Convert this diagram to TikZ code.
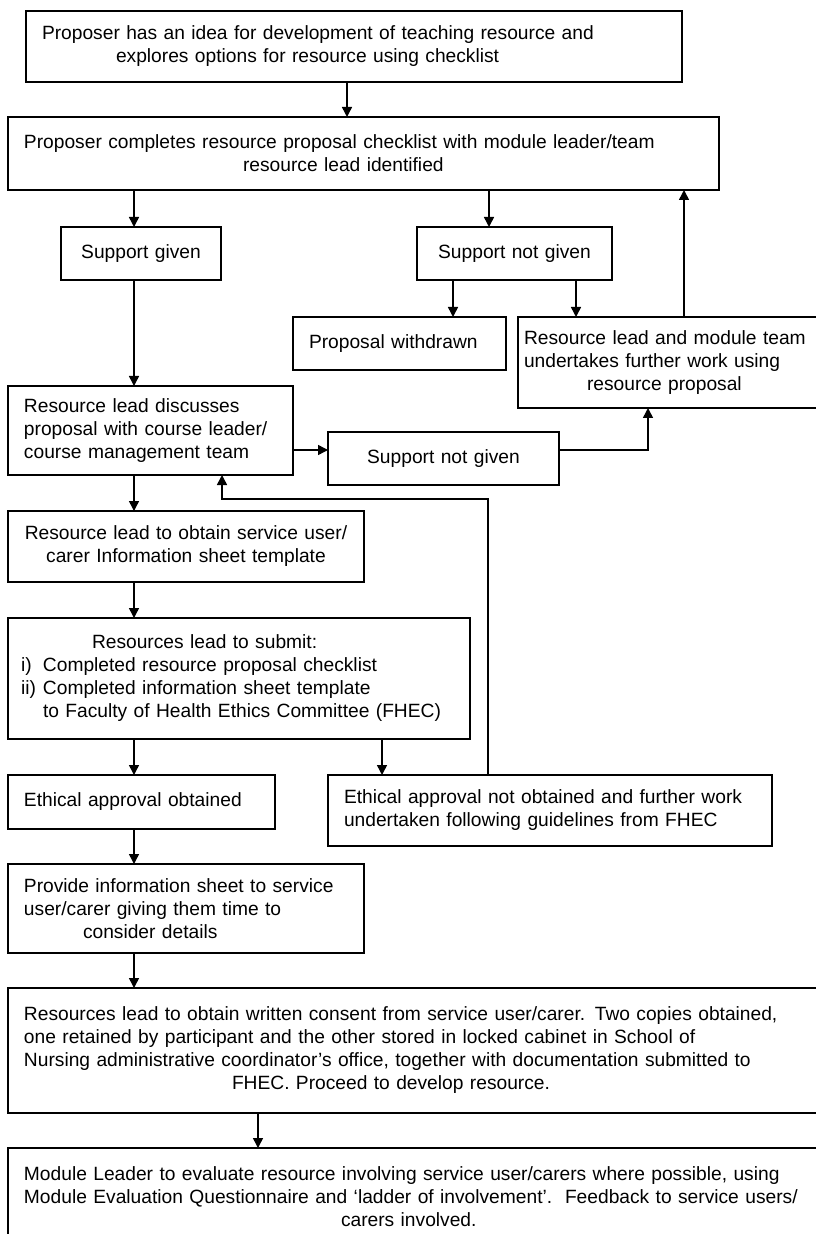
\documentclass[tikz,border=0pt]{standalone}
\usepackage{fontspec}
\setmainfont{Liberation Sans}
\usetikzlibrary{arrows.meta,positioning}

\begin{document}
\begin{tikzpicture}[>={Triangle[length=5pt,width=5pt]},line width=0.75pt,node distance=17.5pt,
      box/.style 2 args={draw,text width=#1,minimum height=#2,inner xsep=8pt,inner ysep=2pt,outer sep=0pt,
        align=left,font=\fontsize{9.6}{11.5}\selectfont},
      cbox/.style 2 args={box={#1}{#2},align=center}]
      \useasboundingbox (0,0) rectangle (407.5pt,-617pt);

      \node[box={312pt}{35.5pt},anchor=north west] (idea) at (13pt,-5.5pt)
        {Proposer has an idea for development of teaching resource and\\
         \hspace*{37pt}explores options for resource using checklist};
      \node[box={339.5pt}{36.5pt},below=of idea.south west,anchor=north west,xshift=-9pt] (checklist)
        {Proposer completes resource proposal checklist with module leader/team\\
         \hspace*{109.5pt}resource lead identified};
      \node[cbox={64pt}{26.5pt},below=18.5pt of checklist.south west,anchor=north west,xshift=26.5pt] (given)
        {Support given};
      \node[cbox={81.5pt}{26.5pt},right=98pt of given.north east,anchor=north west] (nogo)
        {Support not given};
      \node[box={90.5pt}{26.5pt},below=18.5pt of nogo.south west,anchor=north west,xshift=-62pt] (withdrawn)
        {Proposal withdrawn};
      \node[box={146pt}{45.5pt},inner xsep=3pt,right=6pt of withdrawn.north east,anchor=north west] (further)
        {Resource lead and module team\\
         undertakes further work using\\
         \hspace*{31.5pt}resource proposal};
      \node[box={126.5pt}{44.5pt},below=53pt of given.south west,anchor=north west,xshift=-26.5pt] (discusses)
        {Resource lead discusses\\
         proposal with course leader/\\
         course management team};
      \node[cbox={99.5pt}{26.5pt},right=of discusses.north east,anchor=north west,yshift=-23pt] (nogo2)
        {Support not given};
      \node[cbox={174pt}{35.5pt},inner xsep=2pt,below=18pt of discusses.south west,anchor=north west] (template)
        {Resource lead to obtain service user/\\
         carer Information sheet template};
      \node[box={218pt}{60.5pt},inner xsep=6.5pt,below=18pt of template.south west,anchor=north west] (submit)
        {\hspace*{35.5pt}Resources lead to submit:\\
         \makebox[11pt][l]{i)}Completed resource proposal checklist\\
         \makebox[11pt][l]{ii)}Completed information sheet template\\
         \hspace*{11pt}to Faculty of Health Ethics Committee (FHEC)};
      \node[box={117.5pt}{27pt},below=18pt of submit.south west,anchor=north west] (approved)
        {Ethical approval obtained};
      \node[box={206pt}{35.5pt},right=26.5pt of approved.north east,anchor=north west] (rejected)
        {Ethical approval not obtained and further work\\
         undertaken following guidelines from FHEC};
      \node[box={162pt}{44.5pt},below=of approved.south west,anchor=north west] (provide)
        {Provide information sheet to service\\
         user/carer giving them time to\\
         \hspace*{29.5pt}consider details};
      \node[box={404pt}{62.5pt},below=of provide.south west,anchor=north west] (consent)
        {Resources lead to obtain written consent from service user/carer. Two copies obtained,\\
         one retained by participant and the other stored in locked cabinet in School of\\
         Nursing administrative coordinator’s office, together with documentation submitted to\\
         \hspace*{104pt}FHEC. Proceed to develop resource.};
      \node[box={404pt}{49pt},below=of consent.south west,anchor=north west] (evaluate)
        {Module Leader to evaluate resource involving service user/carers where possible, using\\
         Module Evaluation Questionnaire and ‘ladder of involvement’.\ \ Feedback to service users/\\
         \hspace*{158.5pt}carers involved.};

      \coordinate (spine) at (67pt,0);
      \coordinate (t1) at ([xshift=-3.5pt]idea.south);
      \coordinate (t2) at ([xshift=-12.75pt]nogo.north);
      \coordinate (t3) at ([xshift=18pt]nogo.south west);
      \coordinate (t4) at ([xshift=79.5pt]nogo.south west);
      \coordinate (t5) at ([xshift=83pt]further.north west);
      \coordinate (t6) at ([yshift=-32pt]discusses.north east);
      \coordinate (t7) at ([xshift=65pt]further.south west);
      \coordinate (t8) at ([xshift=80pt]rejected.north west);
      \coordinate (t9) at ([xshift=107pt]discusses.south west);
      \coordinate (t10) at ([xshift=27pt]rejected.north west);
      \coordinate (t11) at ([xshift=125pt]consent.south west);

      \draw[->] (t1) -- (t1 |- checklist.north);
      \draw[->] (checklist.south -| spine) -- (given.north -| spine);
      \draw[->] (t2 |- checklist.south) -- (t2);
      \draw[->] (t3) -- (t3 |- withdrawn.north);
      \draw[->] (t4) -- (t4 |- further.north);
      \draw[->] (t5) -- (t5 |- checklist.south);
      \draw[->] (given.south -| spine) -- (discusses.north -| spine);
      \draw[->] (t6) -- (t6 -| nogo2.west);
      \draw[->] (t6 -| nogo2.east) -| (t7);
      \draw[->] (discusses.south -| spine) -- (template.north -| spine);
      \draw[->] (t8) |- ([yshift=-12pt]t9) -- (t9);
      \draw[->] (template.south -| spine) -- (submit.north -| spine);
      \draw[->] (submit.south -| spine) -- (approved.north -| spine);
      \draw[->] (t10 |- submit.south) -- (t10);
      \draw[->] (approved.south -| spine) -- (provide.north -| spine);
      \draw[->] (provide.south -| spine) -- (consent.north -| spine);
      \draw[->] (t11) -- (t11 |- evaluate.north);
\end{tikzpicture}
\end{document}
